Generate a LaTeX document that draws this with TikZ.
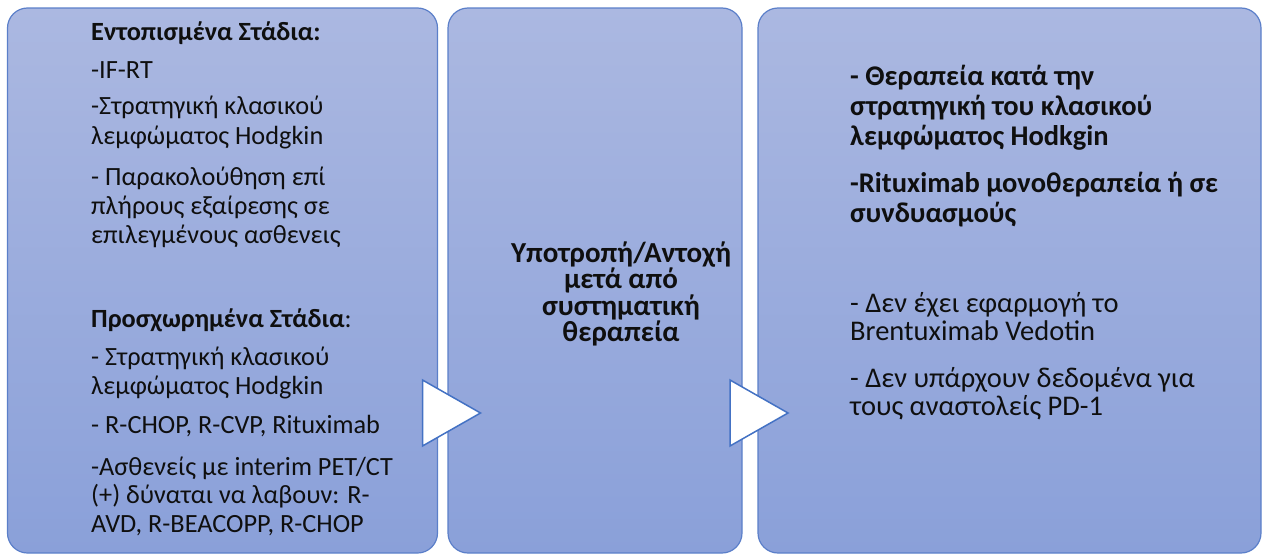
\documentclass[tikz,border=0pt]{standalone}
\usepackage{fontspec}
\setmainfont{Carlito}
\usetikzlibrary{calc}
\definecolor{boxtop}{RGB}{171,184,225}
\definecolor{boxbot}{RGB}{138,160,217}
\definecolor{edgeblue}{RGB}{91,127,201}
\definecolor{arrowedge}{RGB}{68,114,196}
\definecolor{ink}{RGB}{15,15,15}
\begin{document}
\begin{tikzpicture}[x=1pt,y=-1pt,
  panel/.style={draw=edgeblue, line width=1.2pt, rounded corners=20pt, top color=boxtop, bottom color=boxbot, anchor=north west, inner sep=0pt, outer sep=0pt},
  tri/.style={draw=arrowedge, fill=white, line width=1.5pt, line join=miter},
  txt/.style={anchor=base west, inner sep=0pt, text=ink, font=\fontsize{26.3}{29}\selectfont},
  btxt/.style={anchor=base west, inner sep=0pt, text=ink, font=\fontsize{26.3}{29}\selectfont\bfseries},
  rtxt/.style={anchor=base west, inner sep=0pt, text=ink, font=\fontsize{28.5}{29}\selectfont},
  rbtxt/.style={anchor=base west, inner sep=0pt, text=ink, font=\fontsize{28.5}{29}\selectfont\bfseries},
  mtxt/.style={anchor=base, inner sep=0pt, text=ink, font=\fontsize{29}{26.5}\selectfont\bfseries}]
\useasboundingbox (0,0) rectangle (1268,554);
% panels
\node[panel, minimum width=430pt, minimum height=545pt] (b1) at (7.5,8) {};
\node[panel, minimum width=294pt, minimum height=545pt] (b2) at (448,8) {};
\node[panel, minimum width=503pt, minimum height=545pt] (b3) at (758,8) {};
% connectors (triangles)
\draw[tri] ([shift={(-15pt,-99.5pt)}]b1.east) -- ([shift={(43pt,-132.5pt)}]b1.east) -- ([shift={(-15pt,-165.5pt)}]b1.east) -- cycle;
\draw[tri] ([shift={(-12pt,-99.5pt)}]b2.east) -- ([shift={(46pt,-132.5pt)}]b2.east) -- ([shift={(-12pt,-165.5pt)}]b2.east) -- cycle;
% left panel text
\node[btxt] (t1) at (91,40) {Εντοπισμένα Στάδια:};
\node[txt] (t2) at (91,78) {-IF-RT};
\node[txt] (t3) at (91,114) {-Στρατηγική κλασικού};
\node[txt] (t4) at (91,144) {λεμφώματος Hodgkin};
\node[txt] (t5) at (91,185) {- Παρακολούθηση επί};
\node[txt] (t6) at (91,214) {πλήρους εξαίρεσης σε};
\node[txt] (t7) at (91,243) {επιλεγμένους ασθενεις};
\node[txt] (t8) at (91,327) {\textbf{Προσχωρημένα Στάδια}:};
\node[txt] (t9) at (91,365) {- Στρατηγική κλασικού};
\node[txt] (t10) at (91,394) {λεμφώματος Hodgkin};
\node[txt] (t11) at (91,433) {- R-CHOP, R-CVP, Rituximab};
\node[txt] (t12) at (91,475) {-Ασθενείς με interim PET/CT};
\node[txt] (t13) at (91,503) {(+) δύναται να λαβουν: R-};
\node[txt] (t14) at (91,532) {AVD, R-BEACOPP, R-CHOP};
% middle panel text
\node[mtxt] (m1) at (621,262) {Υποτροπή/Αντοχή};
\node[mtxt] (m2) at (621,288.5) {μετά από};
\node[mtxt] (m3) at (621,315) {συστηματική};
\node[mtxt] (m4) at (621,341.5) {θεραπεία};
% right panel text
\node[rbtxt] (r1) at (850,85) {- Θεραπεία κατά την};
\node[rbtxt] (r2) at (850,115) {στρατηγική του κλασικού};
\node[rbtxt] (r3) at (850,145) {λεμφώματος Hodkgin};
\node[rbtxt] (r4) at (850,192) {-Rituximab μονοθεραπεία ή σε};
\node[rbtxt] (r5) at (850,222) {συνδυασμούς};
\node[rtxt] (r6) at (850,312) {- Δεν έχει εφαρμογή το};
\node[rtxt] (r7) at (850,340) {Brentuximab Vedotin};
\node[rtxt] (r8) at (850,387) {- Δεν υπάρχουν δεδομένα για};
\node[rtxt] (r9) at (850,415) {τους αναστολείς PD-1};
\end{tikzpicture}
\end{document}
